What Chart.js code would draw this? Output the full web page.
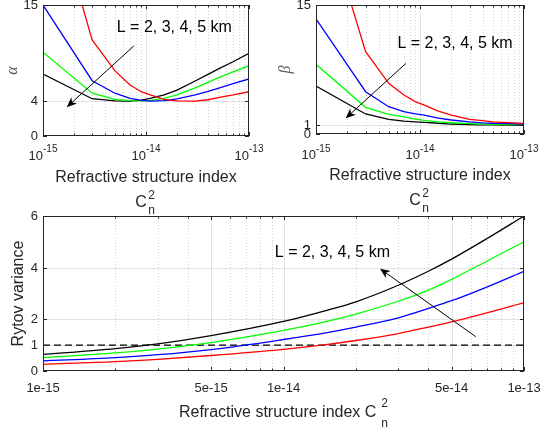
<!DOCTYPE html>
<html>
<head>
<meta charset="utf-8">
<script src="https://cdn.jsdelivr.net/npm/chart.js@4/dist/chart.umd.min.js"></script>
<style>
html,body{margin:0;padding:0;background:#ffffff;}
#wrap{position:relative;width:541px;height:430px;overflow:hidden;background:#ffffff;}
#wrap canvas{position:absolute;left:0;top:0;}
</style>
</head>
<body>
<div id="wrap">
<canvas id="cAlpha" width="541" height="430"></canvas>
<canvas id="cBeta" width="541" height="430"></canvas>
<canvas id="cRytov" width="541" height="430"></canvas>
</div>
<script>
// ---------------- DATA ----------------
const pathLengthsKm = [2, 3, 4, 5];
const annotationText = 'L = 2, 3, 4, 5 km';

// Top panels: refractive structure index Cn^2 (x)
const cn2Top = [1e-15, 3e-15, 5e-15, 7e-15, 9e-15, 1.1e-14, 1.5e-14, 2e-14, 3e-14, 4e-14, 5e-14, 7e-14, 1e-13];
// alpha parameter
const alphaL2 = [30.6, 11.0, 7.45, 5.84, 5.07, 4.7, 4.2, 4.03, 4.0, 4.15, 4.4, 4.7, 5.07];
const alphaL3 = [15.0, 6.33, 4.9, 4.3, 4.08, 4.0, 4.05, 4.25, 4.7, 5.1, 5.45, 6.0, 6.53];
const alphaL4 = [9.6, 4.9, 4.2, 4.05, 4.02, 4.08, 4.3, 4.7, 5.5, 6.15, 6.65, 7.35, 8.05];
const alphaL5 = [7.1, 4.27, 4.02, 4.0, 4.1, 4.3, 4.7, 5.25, 6.3, 7.05, 7.65, 8.5, 9.47];
// beta parameter
const betaL2 = [28.6, 9.57, 5.9, 4.53, 3.76, 3.35, 2.65, 2.2, 1.71, 1.55, 1.42, 1.32, 1.24];
const betaL3 = [13.4, 4.92, 3.17, 2.6, 2.35, 2.2, 1.85, 1.63, 1.4, 1.3, 1.25, 1.2, 1.16];
const betaL4 = [8.1, 3.1, 2.29, 1.98, 1.72, 1.58, 1.42, 1.31, 1.2, 1.15, 1.12, 1.1, 1.08];
const betaL5 = [5.58, 2.33, 1.71, 1.5, 1.42, 1.36, 1.25, 1.16, 1.1, 1.07, 1.05, 1.03, 1.01];

// Bottom panel: Rytov variance
const cn2Bottom = [1e-15, 2e-15, 3e-15, 5e-15, 1e-14, 1.5e-14, 2e-14, 3e-14, 4e-14, 5e-14, 7e-14, 1e-13];
const rytovL2 = [0.26, 0.36, 0.45, 0.60, 0.84, 1.02, 1.18, 1.45, 1.70, 1.90, 2.25, 2.65];
const rytovL3 = [0.39, 0.52, 0.63, 0.83, 1.22, 1.48, 1.70, 2.06, 2.42, 2.72, 3.25, 3.86];
const rytovL4 = [0.52, 0.70, 0.85, 1.10, 1.57, 1.91, 2.20, 2.70, 3.13, 3.55, 4.25, 5.00];
const rytovL5 = [0.64, 0.87, 1.05, 1.37, 1.92, 2.34, 2.68, 3.32, 3.86, 4.33, 5.12, 6.00];
const rytovThresholdX = [1e-15, 1e-13];
const rytovThresholdY = [1, 1];

// Tick labels
const alphaYTicks = [0, 4, 15];
const betaYTicks = [0, 1, 15];
const rytovYTicks = [0, 1, 2, 4, 6];
const topXTickExponents = [-15, -14, -13];
const bottomXTickValues = [1e-15, 5e-15, 1e-14, 5e-14, 1e-13];
const bottomXTickLabels = ['1e-15', '5e-15', '1e-14', '5e-14', '1e-13'];

// ---------------- STYLE ----------------
const SERIES_COLORS = ['#ff0000', '#0000ff', '#00ff00', '#000000'];
const AXIS_COLOR = '#262626';
const GRID_MAJOR = 'rgba(38,38,38,0.13)';
const GRID_MINOR = 'rgba(38,38,38,0.20)';
const SANS = '"Liberation Sans", Arial, Helvetica, sans-serif';
const SERIF = '"Liberation Serif", "DejaVu Serif", serif';

function logGrid(minExp, maxExp) {
  const out = [];
  for (let e = minExp; e < maxExp; e++) for (let k = 1; k < 10; k++) out.push(Number((k + 'e' + e)));
  out.push(Number('1e' + maxExp));
  return out;
}
function sameVal(a, b) { return Math.abs(Math.log10(a) - Math.log10(b)) < 1e-6; }
function pts(xs, ys) { return xs.map((x, i) => ({x: x, y: ys[i]})); }

function drawArrow(ctx, x0, y0, x1, y1) {
  const hl = 10, hw = 4.2;
  const ang = Math.atan2(y1 - y0, x1 - x0);
  const c = Math.cos(ang), s = Math.sin(ang);
  const bx = x1 - hl * c, by = y1 - hl * s;
  const nx = x1 - 0.72 * hl * c, ny = y1 - 0.72 * hl * s;
  ctx.beginPath();
  ctx.moveTo(x0, y0);
  ctx.lineTo(nx, ny);
  ctx.stroke();
  ctx.beginPath();
  ctx.moveTo(x1, y1);
  ctx.lineTo(bx - hw * s, by + hw * c);
  ctx.lineTo(nx, ny);
  ctx.lineTo(bx + hw * s, by - hw * c);
  ctx.closePath();
  ctx.fill();
}

const matlabAxes = {
  id: 'matlabAxes',
  beforeDatasetsDraw(chart, _args, o) {
    const ctx = chart.ctx, a = chart.chartArea, xs = chart.scales.x, ys = chart.scales.y;
    ctx.save();
    ctx.lineWidth = 1;
    for (const v of o.xGrid) {
      const px = Math.round(xs.getPixelForValue(v)) + 0.5;
      if (px < a.left + 1.5 || px > a.right - 1.5) continue;
      const major = o.xMajor.some(m => sameVal(m, v));
      ctx.strokeStyle = major ? GRID_MAJOR : GRID_MINOR;
      ctx.setLineDash(major ? [] : [1, 2]);
      ctx.beginPath(); ctx.moveTo(px, a.top); ctx.lineTo(px, a.bottom); ctx.stroke();
    }
    ctx.setLineDash([]);
    ctx.strokeStyle = GRID_MAJOR;
    for (const v of o.yTicks) {
      const py = Math.round(ys.getPixelForValue(v)) + 0.5;
      if (py < a.top + 1.5 || py > a.bottom - 1.5) continue;
      ctx.beginPath(); ctx.moveTo(a.left, py); ctx.lineTo(a.right, py); ctx.stroke();
    }
    ctx.restore();
  },
  afterDatasetsDraw(chart, _args, o) {
    const ctx = chart.ctx, a = chart.chartArea, xs = chart.scales.x, ys = chart.scales.y;
    ctx.save();
    // frame
    ctx.strokeStyle = AXIS_COLOR;
    ctx.lineWidth = 1;
    ctx.setLineDash([]);
    ctx.strokeRect(a.left + 0.5, a.top + 0.5, a.right - a.left - 1, a.bottom - a.top - 1);
    // x ticks (inward, bottom and top)
    for (const v of o.xGrid) {
      const px = Math.round(xs.getPixelForValue(v)) + 0.5;
      const major = o.xMajor.some(m => sameVal(m, v));
      const len = major ? 4 : 2.5;
      ctx.beginPath();
      ctx.moveTo(px, a.bottom); ctx.lineTo(px, a.bottom - len);
      ctx.moveTo(px, a.top); ctx.lineTo(px, a.top + len);
      ctx.stroke();
    }
    // y ticks
    for (const v of o.yTicks) {
      const py = Math.round(ys.getPixelForValue(v)) + 0.5;
      ctx.beginPath();
      ctx.moveTo(a.left, py); ctx.lineTo(a.left + 4, py);
      ctx.moveTo(a.right, py); ctx.lineTo(a.right - 4, py);
      ctx.stroke();
    }
    // y tick labels
    ctx.fillStyle = AXIS_COLOR;
    ctx.font = '13px ' + SANS;
    ctx.textAlign = 'right';
    ctx.textBaseline = 'middle';
    for (const v of o.yTicks) {
      ctx.fillText(String(v), a.left - 5, ys.getPixelForValue(v) + 0.5);
    }
    // x tick labels
    if (o.xPowExps) {
      const base = a.bottom + o.xLabelOffset;
      for (const e of o.xPowExps) {
        const px = xs.getPixelForValue(Number('1e' + e));
        ctx.font = '13px ' + SANS;
        const wb = ctx.measureText('10').width;
        ctx.font = '10px ' + SANS;
        const we = ctx.measureText(String(e)).width;
        const x0 = px - (wb + we) / 2;
        ctx.textAlign = 'left';
        ctx.textBaseline = 'alphabetic';
        ctx.font = '13px ' + SANS;
        ctx.fillText('10', x0, base);
        ctx.font = '10px ' + SANS;
        ctx.fillText(String(e), x0 + wb, base - 7.5);
      }
    }
    if (o.xLabelValues) {
      ctx.font = '13px ' + SANS;
      ctx.textAlign = 'center';
      ctx.textBaseline = 'alphabetic';
      o.xLabelValues.forEach((v, i) => {
        ctx.fillText(o.xLabelTexts[i], xs.getPixelForValue(v), a.bottom + o.xLabelOffset);
      });
    }
    // x title
    const cx = (a.left + a.right) / 2;
    ctx.textBaseline = 'alphabetic';
    if (o.titleStacked) {
      ctx.font = '16px ' + SANS;
      ctx.textAlign = 'center';
      ctx.fillText(o.xTitle, cx, a.bottom + 45.5);
      const cb = a.bottom + 70.5;
      ctx.font = '16px ' + SANS;
      const wc = ctx.measureText('C').width;
      ctx.font = '12px ' + SANS;
      const ws = Math.max(ctx.measureText('2').width, ctx.measureText('n').width);
      const x0 = cx - 1 - (wc + 1.5 + ws) / 2;
      ctx.textAlign = 'left';
      ctx.font = '16px ' + SANS;
      ctx.fillText('C', x0, cb);
      ctx.font = '12px ' + SANS;
      ctx.fillText('2', x0 + wc + 1.5, cb - 8);
      ctx.fillText('n', x0 + wc + 1.5, cb + 7);
    } else {
      const tb = a.bottom + 45.5;
      ctx.font = '16px ' + SANS;
      const wt = ctx.measureText(o.xTitle + ' C').width;
      ctx.font = '12px ' + SANS;
      const ws = Math.max(ctx.measureText('2').width, ctx.measureText('n').width);
      const x0 = cx - (wt + 5 + ws) / 2;
      ctx.textAlign = 'left';
      ctx.font = '16px ' + SANS;
      ctx.fillText(o.xTitle + ' C', x0, tb);
      ctx.font = '12px ' + SANS;
      ctx.fillText('2', x0 + wt + 5, tb - 10);
      ctx.fillText('n', x0 + wt + 5, tb + 10);
    }
    // y title (rotated)
    ctx.save();
    ctx.translate(o.yTitleX, (a.top + a.bottom) / 2);
    ctx.rotate(-Math.PI / 2);
    ctx.textAlign = 'center';
    ctx.textBaseline = 'middle';
    ctx.fillStyle = o.yTitleColor || AXIS_COLOR;
    ctx.font = o.yTitleFont;
    ctx.fillText(o.yTitle, 0, 0);
    ctx.restore();
    // annotation: text + arrow
    const an = o.annotation;
    ctx.fillStyle = '#000000';
    ctx.strokeStyle = '#000000';
    ctx.lineWidth = 1;
    ctx.font = '16px ' + SANS;
    ctx.textAlign = 'left';
    ctx.textBaseline = 'middle';
    ctx.fillText(an.text, xs.getPixelForValue(an.textAt.x), ys.getPixelForValue(an.textAt.y));
    drawArrow(ctx,
      xs.getPixelForValue(an.from.x), ys.getPixelForValue(an.from.y),
      xs.getPixelForValue(an.to.x), ys.getPixelForValue(an.to.y));
    ctx.restore();
  }
};

function seriesDatasets(xs, lists, smooth) {
  return lists.map((ys, i) => ({
    label: 'L = ' + pathLengthsKm[i] + ' km',
    data: pts(xs, ys),
    borderColor: SERIES_COLORS[i],
    backgroundColor: SERIES_COLORS[i],
    borderWidth: 1.3,
    pointRadius: 0,
    fill: false,
    tension: smooth ? 0.4 : 0,
    cubicInterpolationMode: smooth ? 'monotone' : 'default',
    clip: 0
  }));
}

function makeChart(id, datasets, xRange, yRange, padding, axesOpts) {
  return new Chart(document.getElementById(id), {
    type: 'line',
    data: {datasets: datasets},
    options: {
      responsive: false,
      animation: false,
      devicePixelRatio: 1,
      layout: {padding: padding},
      scales: {
        x: {type: 'logarithmic', min: xRange[0], max: xRange[1], display: false},
        y: {type: 'linear', min: yRange[0], max: yRange[1], display: false}
      },
      plugins: {legend: {display: false}, tooltip: {enabled: false}, matlabAxes: axesOpts}
    },
    plugins: [matlabAxes]
  });
}

const topGrid = logGrid(-15, -13);
const topMajor = topXTickExponents.map(e => Number('1e' + e));

makeChart('cAlpha',
  seriesDatasets(cn2Top, [alphaL2, alphaL3, alphaL4, alphaL5], false),
  [1e-15, 1e-13], [0, 15],
  {left: 43, right: 292, top: 5, bottom: 294},
  {
    xGrid: topGrid, xMajor: topMajor, yTicks: alphaYTicks,
    xPowExps: topXTickExponents, xLabelOffset: 23.5,
    xTitle: 'Refractive structure index', titleStacked: true,
    yTitle: '\u03B1', yTitleX: 13, yTitleFont: 'italic 16px ' + SERIF, yTitleColor: '#555555',
    annotation: {text: annotationText, textAt: {x: 5.2e-15, y: 12.4},
      from: {x: 7.6e-15, y: 10.3}, to: {x: 1.7e-15, y: 3.3}}
  });

makeChart('cBeta',
  seriesDatasets(cn2Top, [betaL2, betaL3, betaL4, betaL5], false),
  [1e-15, 1e-13], [0, 15],
  {left: 316, right: 17, top: 5, bottom: 296},
  {
    xGrid: topGrid, xMajor: topMajor, yTicks: betaYTicks,
    xPowExps: topXTickExponents, xLabelOffset: 25,
    xTitle: 'Refractive structure index', titleStacked: true,
    yTitle: '\u03B2', yTitleX: 286, yTitleFont: 'italic 16px ' + SERIF, yTitleColor: '#555555',
    annotation: {text: annotationText, textAt: {x: 6.07e-15, y: 10.55},
      from: {x: 7.3e-15, y: 8.2}, to: {x: 1.93e-15, y: 1.83}}
  });

const rytovSets = seriesDatasets(cn2Bottom, [rytovL2, rytovL3, rytovL4, rytovL5], true);
rytovSets.push({
  label: 'threshold',
  data: pts(rytovThresholdX, rytovThresholdY),
  borderColor: '#000000',
  borderWidth: 1.2,
  borderDash: [7, 4],
  pointRadius: 0,
  fill: false,
  tension: 0,
  clip: 0
});

makeChart('cRytov',
  rytovSets,
  [1e-15, 1e-13], [0, 6],
  {left: 43, right: 17, top: 216, bottom: 59},
  {
    xGrid: topGrid, xMajor: bottomXTickValues, yTicks: rytovYTicks,
    xLabelValues: bottomXTickValues, xLabelTexts: bottomXTickLabels, xLabelOffset: 20.5,
    xTitle: 'Refractive structure index', titleStacked: false,
    yTitle: 'Rytov variance', yTitleX: 19, yTitleFont: '16px ' + SANS,
    annotation: {text: annotationText, textAt: {x: 9.2e-15, y: 4.57},
      from: {x: 6.3e-14, y: 1.33}, to: {x: 2.52e-14, y: 3.96}}
  });
</script>
</body>
</html>
